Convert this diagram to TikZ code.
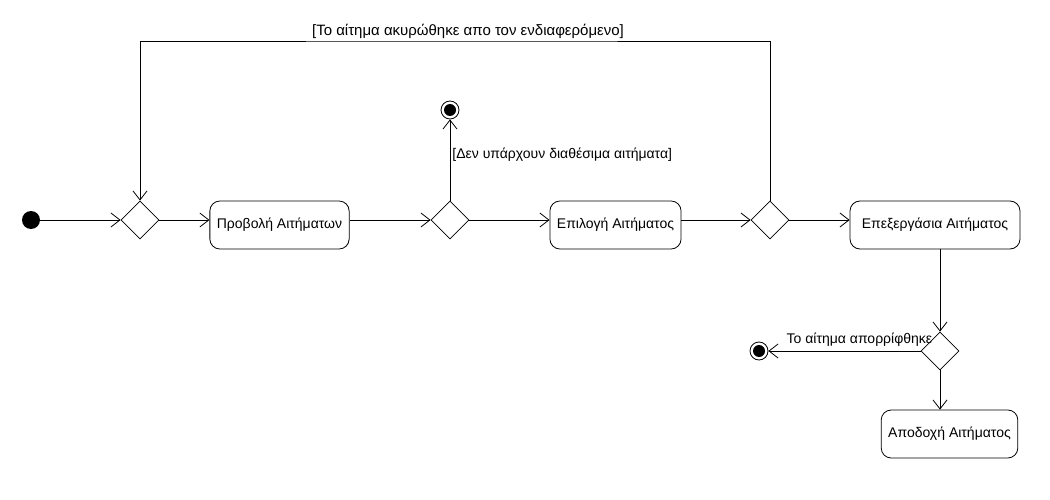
\documentclass[tikz,border=0pt]{standalone}
\usepackage{fontspec}
\setmainfont{Liberation Sans}
\usetikzlibrary{arrows.meta, shapes.geometric, positioning}

\tikzset{
	startnode/.style={circle, fill, minimum size=18pt, inner sep=0pt},
	endnode/.style={circle, draw, minimum size=18pt, inner sep=0pt,
		path picture={\fill (path picture bounding box.center) circle (6pt);}},
	decision/.style={diamond, draw, minimum size=38pt, inner sep=0pt},
	action/.style={draw, rounded corners=10pt, minimum height=48pt, inner xsep=7pt},
	guard/.style={inner sep=2pt}
}

\begin{document}
\begin{tikzpicture}[x=1pt, y=-1pt, node distance=110pt, on grid, line width=0.8pt,
	>={Straight Barb[length=9pt, width=14pt]}, font=\fontsize{14}{16}\selectfont]
	\useasboundingbox (0,0) rectangle (1050,500);

	\node[startnode] (init) at (31,220) {};
	\node[decision, right=109pt of init] (d_1) {};
	\node[action, right=139.5pt of d_1, yshift=-5pt] (view) {Προβολή Αιτήματων};
	\node[decision, right=310pt of d_1] (d_2) {};
	\node[endnode, above=of d_2] (end_1) {};
	\node[action, right=165.5pt of d_2, yshift=-5pt] (select) {Επιλογή Αιτήματος};
	\node[decision, right=320pt of d_2] (d_3) {};
	\node[action, right=165pt of d_3, yshift=-5pt, minimum width=170pt] (process) {Επεξεργάσια Αιτήματος};
	\node[decision] (d_4) at (940,351) {};
	\node[endnode, left=181pt of d_4] (end_2) {};
	\node[action, below=83pt of d_4, xshift=9.5pt] (accept) {Αποδοχή Αιτήματος};
	\coordinate (cancel) at (468,41);

	\path[->]
	(init) edge (d_1)
	(d_1.east) edge (d_1.east -| view.west)
	(view.east |- d_2) edge (d_2.west)
	(d_2.east) edge (d_2.east -| select.west)
	(select.east |- d_3) edge (d_3.west)
	(d_3.east) edge (d_3.east -| process.west)
	(d_2.north) edge node[pos=0.56, right, guard] {[Δεν υπάρχουν διαθέσιμα αιτήματα]} (end_1)
	(d_4.north |- process.south) edge (d_4.north)
	(d_4.west) edge node[pos=0, anchor=south east, xshift=14pt, yshift=2pt, guard] {Το αίτημα απορρίφθηκε} (end_2)
	(d_4.south) edge (d_4.south |- accept.north);

	\draw[->] (d_3.north) |- (cancel) node[above, guard, font=\fontsize{15}{17}\selectfont] {[Το αίτημα ακυρώθηκε απο τον ενδιαφερόμενο]} -| (d_1.north);
\end{tikzpicture}
\end{document}
